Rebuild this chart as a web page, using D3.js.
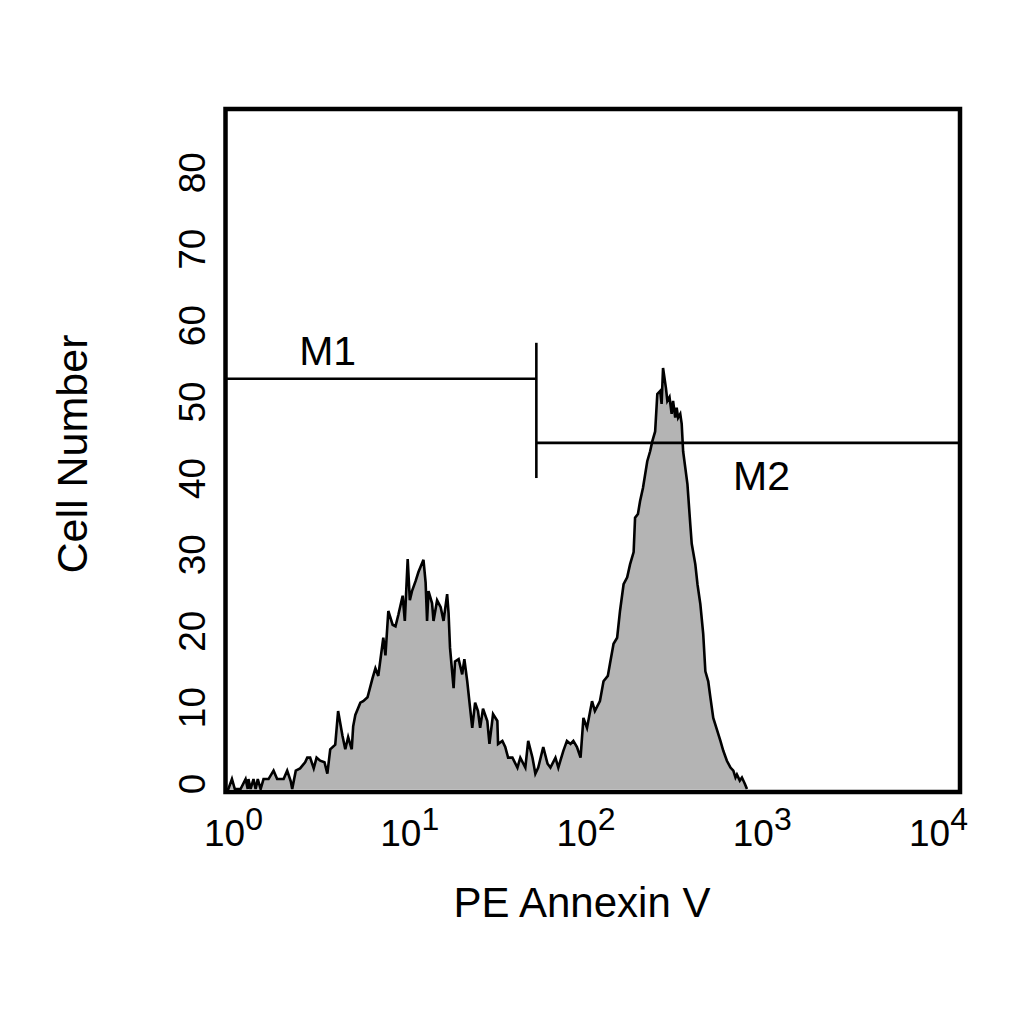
<!DOCTYPE html>
<html>
<head>
<meta charset="utf-8">
<script src="https://cdn.jsdelivr.net/npm/d3@7"></script>
<style>
  html, body { margin: 0; padding: 0; background: #ffffff; }
  svg { display: block; }
</style>
</head>
<body>
<svg id="chart" width="1024" height="1024"></svg>
<script>
// ---------- DATA ----------
// Histogram: channel (256 channels per decade, 0..1023) and cell count
const channels = [0,4,9,13,21,28,31,32,35,39,42,45,49,53,60,67,72,81,86,91,93,98,104,111,114,118,123,127,132,138,142,146,153,157,163,167,171,176,178,181,188,192,198,205,209,213,220,223,227,233,237,241,247,250,254,257,260,265,269,276,279,281,283,288,290,295,300,304,309,311,313,318,320,325,330,333,337,341,344,348,352,355,359,365,368,373,379,380,386,390,394,400,407,411,418,422,428,432,436,443,449,453,460,464,471,476,481,485,490,495,499,504,511,515,522,527,533,536,541,546,550,555,560,564,569,571,575,578,582,588,592,595,599,602,606,608,610,614,616,619,622,624,627,629,631,634,636,638,644,648,650,655,658,662,666,669,673,676,680,685,690,694,699,704,708,711,713,717,720,724,727];
const counts = [0,0,1.3,0,0,1.3,0,1.3,0,1.3,0,1.3,0,1.3,1.3,2.4,1.3,1.3,2.4,1.0,0,2.4,2.7,3.5,4.1,4.1,2.7,4.1,3.7,3.5,2.0,5.2,5.8,10.2,7.0,5.2,6.8,5.2,8.2,9.7,11.3,11.5,12.0,14.5,15.8,14.8,19.8,17.5,23.3,21.5,21.3,22.8,25.3,22,30.1,24.7,25.9,27.2,28.4,30,27,22,25.9,24.3,22,24.7,23.8,22,25.5,23,18.5,13.2,16.7,17.0,15,17.0,14.1,10.6,8.0,11.3,10.2,8.0,10.5,8.9,5.9,9.8,8.9,5.9,6.3,5.5,4.1,4.1,2.8,4.1,2.8,6.3,4.1,2.0,2.8,5.5,3.3,2.8,4.1,2.8,5.0,6.3,5.9,6.3,5.5,4.1,9.3,8.0,11.5,10.2,11.5,14.1,14.8,16.4,19,19.8,23.3,26.8,27.7,29.4,31,35.5,36,37.7,39.4,42.9,44.2,45.5,46.8,51.7,52.1,50.4,55.1,52.5,50.8,51.3,49.1,50.8,48.6,49.9,48.6,49.1,47.8,44.2,39.9,34.6,32.1,29.4,26.8,24.2,20.3,15.4,14.1,12.0,9.3,7.8,6.3,5.0,3.7,2.8,2.4,1.5,1.9,1.1,1.5,0.7,0];

const xTickValues = [1, 10, 100, 1000, 10000];
const xTickExponents = ["0", "1", "2", "3", "4"];
const yTickValues = [0, 10, 20, 30, 40, 50, 60, 70, 80];

// Marker regions (M1, M2)
const markerNames = ["M1", "M2"];
const markerFrom  = [1, 49.3];
const markerTo    = [49.3, 10000];
const markerLevel = [53.7, 45.3];
const markerDividerTop = 58.4;
const markerDividerBottom = 40.7;

const xTitle = "PE Annexin V";
const yTitle = "Cell Number";

// ---------- LAYOUT ----------
const frame = { left: 225.5, top: 109, right: 960, bottom: 792 };
const FONT = "'Liberation Sans', Arial, Helvetica, sans-serif";

const svg = d3.select("#chart");

const x = d3.scaleLog().domain([1, 10000]).range([frame.left, frame.right]);
const xLabel = d3.scaleLog().domain([1, 10000]).range([224, 929]);
const y = d3.scaleLinear().domain([0, 89]).range([789, frame.top]);

const hist = channels.map((ch, i) => ({ v: Math.pow(10, ch / 256), c: counts[i] }));

svg.append("defs").append("clipPath").attr("id", "plotclip")
  .append("rect")
  .attr("x", frame.left).attr("y", frame.top)
  .attr("width", frame.right - frame.left).attr("height", frame.bottom - frame.top);

const plot = svg.append("g").attr("clip-path", "url(#plotclip)");

const area = d3.area()
  .x(d => x(d.v))
  .y0(y(0))
  .y1(d => y(d.c));
const line = d3.line()
  .x(d => x(d.v))
  .y(d => y(d.c));

plot.append("path").datum(hist)
  .attr("d", area)
  .attr("fill", "#b4b4b4")
  .attr("stroke", "none");

plot.append("path").datum(hist)
  .attr("d", line)
  .attr("fill", "none")
  .attr("stroke", "#000")
  .attr("stroke-width", 2.6)
  .attr("stroke-linejoin", "miter");

// Markers
markerNames.forEach((name, i) => {
  plot.append("line")
    .attr("x1", x(markerFrom[i])).attr("x2", x(markerTo[i]))
    .attr("y1", y(markerLevel[i])).attr("y2", y(markerLevel[i]))
    .attr("stroke", "#000").attr("stroke-width", 2.6);
});
plot.append("line")
  .attr("x1", x(markerTo[0])).attr("x2", x(markerTo[0]))
  .attr("y1", y(markerDividerTop)).attr("y2", y(markerDividerBottom))
  .attr("stroke", "#000").attr("stroke-width", 2.6);

// Marker labels
const markerLabelPos = [
  { xv: 3.6, dy: -14 },
  { xv: 830, dy: 47 }
];
markerNames.forEach((name, i) => {
  svg.append("text")
    .attr("x", x(markerLabelPos[i].xv))
    .attr("y", y(markerLevel[i]) + markerLabelPos[i].dy)
    .attr("text-anchor", "middle")
    .attr("font-family", FONT)
    .attr("font-size", 41)
    .attr("fill", "#000")
    .text(name);
});

// Frame
svg.append("rect")
  .attr("x", frame.left).attr("y", frame.top)
  .attr("width", frame.right - frame.left).attr("height", frame.bottom - frame.top)
  .attr("fill", "none").attr("stroke", "#000").attr("stroke-width", 4.5);

// X tick labels (10^n)
const xt = svg.append("g");
xTickValues.forEach((v, i) => {
  const t = xt.append("text")
    .attr("x", xLabel(v) - 20)
    .attr("y", 846)
    .attr("font-family", FONT)
    .attr("font-size", 37)
    .attr("fill", "#000");
  t.append("tspan").text("10");
  t.append("tspan").attr("dy", -16).attr("font-size", 32).text(xTickExponents[i]);
});

// Y tick labels (rotated)
const yt = svg.append("g");
yTickValues.forEach(v => {
  yt.append("text")
    .attr("transform", `translate(205,${y(v) - 5}) rotate(-90)`)
    .attr("text-anchor", "middle")
    .attr("font-family", FONT)
    .attr("font-size", 37)
    .attr("fill", "#000")
    .text(v);
});

// Axis titles
svg.append("text")
  .attr("x", 582).attr("y", 917)
  .attr("text-anchor", "middle")
  .attr("font-family", FONT)
  .attr("font-size", 42)
  .attr("fill", "#000")
  .text(xTitle);

svg.append("text")
  .attr("transform", "translate(87,454) rotate(-90)")
  .attr("text-anchor", "middle")
  .attr("font-family", FONT)
  .attr("font-size", 43)
  .attr("fill", "#000")
  .text(yTitle);
</script>
</body>
</html>
